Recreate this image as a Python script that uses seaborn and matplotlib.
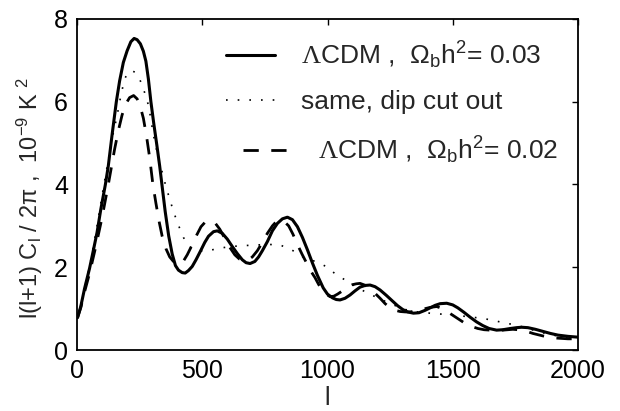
import numpy as np
import pandas as pd
import matplotlib
matplotlib.use("Agg")
import matplotlib.pyplot as plt
import seaborn as sns

# ---- data ----
# solid: LCDM, Omega_b h^2 = 0.03
l_a = [2, 15, 30, 50, 65, 80, 95, 113, 125, 140, 157, 170, 185, 200, 215, 228, 240, 253,
       265, 275, 285, 295, 307, 319, 330, 339, 352, 366, 380, 393, 405, 420, 432, 445, 460,
       475, 492, 510, 525, 545, 560, 580, 600, 620, 640, 660, 675, 691, 710, 725, 740, 760,
       780, 800, 820, 840, 860, 880, 900, 920, 940, 960, 983, 1000, 1020, 1035, 1050, 1070,
       1090, 1110, 1130, 1150, 1170, 1190, 1210, 1235, 1260, 1280, 1300, 1320, 1343, 1365,
       1390, 1410, 1430, 1450, 1476, 1500, 1520, 1545, 1570, 1595, 1620, 1645, 1675, 1700,
       1730, 1755, 1775, 1800, 1830, 1860, 1890, 1920, 1960, 2000]
cl_a = [0.78, 1.05, 1.48, 1.97, 2.40, 2.84, 3.40, 3.99, 4.45, 5.20, 6.00, 6.50, 6.95, 7.23,
        7.45, 7.53, 7.50, 7.40, 7.22, 6.98, 6.55, 6.00, 5.45, 4.94, 4.45, 4.00, 3.35, 2.76,
        2.32, 2.04, 1.93, 1.87, 1.86, 1.92, 2.02, 2.18, 2.38, 2.60, 2.75, 2.86, 2.88, 2.82,
        2.68, 2.50, 2.33, 2.18, 2.11, 2.09, 2.14, 2.25, 2.40, 2.62, 2.88, 3.06, 3.17, 3.21,
        3.15, 2.98, 2.72, 2.42, 2.10, 1.80, 1.50, 1.35, 1.26, 1.22, 1.21, 1.25, 1.33, 1.43,
        1.52, 1.56, 1.57, 1.53, 1.45, 1.32, 1.18, 1.07, 0.98, 0.92, 0.89, 0.90, 0.96, 1.02,
        1.08, 1.12, 1.13, 1.09, 1.02, 0.91, 0.79, 0.68, 0.59, 0.52, 0.48, 0.49, 0.52, 0.54,
        0.55, 0.54, 0.50, 0.45, 0.40, 0.36, 0.33, 0.31]

# dotted: same, dip cut out
l_b = [2, 15, 30, 50, 65, 80, 100, 125, 145, 160, 175, 190, 205, 220, 235, 250, 266, 286,
       305, 326, 340, 355, 370, 386, 406, 425, 445, 470, 511, 560, 611, 660, 717, 770, 810,
       857, 910, 957, 997, 1037, 1083, 1120, 1150, 1190, 1250, 1316, 1360, 1409, 1450, 1500,
       1556, 1609, 1652, 1702, 1755, 1800, 1850, 1900, 1950, 2000]
cl_b = [0.78, 1.05, 1.50, 2.00, 2.50, 3.00, 3.73, 4.60, 5.25, 5.66, 6.15, 6.55, 6.72, 6.75,
        6.70, 6.55, 6.30, 5.90, 5.20, 4.60, 4.30, 3.95, 3.65, 3.33, 3.00, 2.72, 2.52, 2.42,
        2.38, 2.45, 2.50, 2.52, 2.54, 2.55, 2.54, 2.42, 2.22, 2.13, 2.01, 1.81, 1.65, 1.50,
        1.41, 1.29, 1.12, 0.97, 0.92, 0.89, 0.87, 0.84, 0.81, 0.77, 0.73, 0.66, 0.60, 0.52,
        0.43, 0.36, 0.31, 0.28]

# dashed: LCDM, Omega_b h^2 = 0.02
l_c = [2, 15, 30, 50, 75, 100, 125, 150, 165, 180, 195, 210, 226, 240, 252, 265, 278, 290,
       303, 315, 328, 340, 355, 370, 385, 398, 412, 425, 440, 458, 478, 495, 510, 531, 550,
       570, 590, 610, 630, 648, 665, 685, 700, 720, 740, 760, 780, 795, 810, 828, 845, 862,
       880, 898, 915, 932, 950, 965, 980, 995, 1010, 1025, 1040, 1055, 1070, 1085, 1100,
       1115, 1130, 1148, 1165, 1188, 1210, 1230, 1250, 1270, 1290, 1310, 1329, 1350, 1370,
       1390, 1410, 1436, 1455, 1470, 1490, 1510, 1530, 1550, 1575, 1600, 1625, 1649, 1675,
       1700, 1720, 1740, 1760, 1780, 1800, 1820, 1840, 1860, 1885, 1910, 1935, 1960, 2000]
cl_c = [0.78, 1.02, 1.40, 1.85, 2.50, 3.20, 4.00, 4.85, 5.30, 5.68, 5.95, 6.10, 6.15, 6.07,
        5.90, 5.60, 5.15, 4.65, 4.00, 3.55, 3.10, 2.75, 2.45, 2.25, 2.14, 2.09, 2.08, 2.15,
        2.30, 2.52, 2.78, 2.98, 3.08, 3.13, 3.08, 2.92, 2.70, 2.48, 2.30, 2.20, 2.16, 2.18,
        2.25, 2.40, 2.60, 2.82, 3.00, 3.10, 3.14, 3.10, 3.00, 2.80, 2.55, 2.32, 2.12, 1.92,
        1.75, 1.58, 1.45, 1.35, 1.29, 1.30, 1.35, 1.41, 1.48, 1.54, 1.58, 1.60, 1.61, 1.57,
        1.50, 1.38, 1.25, 1.12, 1.02, 0.96, 0.93, 0.92, 0.92, 0.94, 0.97, 1.00, 1.03, 1.05,
        1.01, 0.96, 0.88, 0.80, 0.72, 0.64, 0.57, 0.52, 0.49, 0.48, 0.48, 0.48, 0.49, 0.50,
        0.49, 0.47, 0.44, 0.40, 0.37, 0.34, 0.31, 0.29, 0.28, 0.27, 0.27]

labels = [r"$\mathsf{\Lambda}$CDM ,  $\Omega_bh^2$= 0.03",
          "same, dip cut out",
          r"$\mathsf{\Lambda}$CDM ,  $\Omega_bh^2$= 0.02"]
x_ticks = [0, 500, 1000, 1500, 2000]
y_ticks = [0, 2, 4, 6, 8]

# ---- style ----
sns.set_theme(style="white")
plt.rcParams["font.family"] = ["Liberation Sans", "DejaVu Sans"]
plt.rcParams["mathtext.fontset"] = "custom"
plt.rcParams["mathtext.rm"] = "Liberation Sans"
plt.rcParams["mathtext.it"] = "Liberation Sans:italic"
plt.rcParams["mathtext.sf"] = "Liberation Serif"
plt.rcParams["mathtext.default"] = "regular"

FS = 18
LFS = 19
fig = plt.figure(figsize=(6.2, 4.11), dpi=100)
ax = fig.add_axes([77 / 620, 61 / 411, 501 / 620, 331 / 411])

df_a = pd.DataFrame({"l": l_a, "cl": cl_a})
df_b = pd.DataFrame({"l": l_b, "cl": cl_b})
df_c = pd.DataFrame({"l": l_c, "cl": cl_c})

sns.lineplot(data=df_a, x="l", y="cl", ax=ax, color="black", lw=2.2,
             linestyle="-", label=labels[0], legend=False)
sns.lineplot(data=df_b, x="l", y="cl", ax=ax, color="black", lw=1.2,
             linestyle=(0, (1, 6)), label=labels[1], legend=False)
sns.lineplot(data=df_c, x="l", y="cl", ax=ax, color="black", lw=2.0,
             linestyle=(0, (5.5, 4.5)), label=labels[2], legend=False)

ax.set_xlim(0, 2000)
ax.set_ylim(0, 8)
ax.set_xticks(x_ticks)
ax.set_yticks(y_ticks)
ax.tick_params(direction="in", length=4, width=1, top=True, right=True,
               labelsize=FS, pad=6.5, colors="black")
for s in ax.spines.values():
    s.set_visible(True)
    s.set_color("black")
    s.set_linewidth(1.3)

ax.set_xlabel("l", fontsize=FS, labelpad=2)
ax.set_ylabel(r"l(l+1) C$_l$ / 2π ,  10$^{-9}$ K $^2$", fontsize=17)
ax.yaxis.set_label_coords(-0.064, 0.46)

lines = ax.get_lines()
leg1 = fig.legend(handles=[lines[0], lines[1]], labels=labels[:2],
                  loc="center left", bbox_to_anchor=(226 / 620, 1 - 77 / 411),
                  frameon=False, fontsize=LFS, borderpad=0, borderaxespad=0,
                  handlelength=1.86, handletextpad=0.98, labelspacing=0.72)
leg2 = fig.legend(handles=[lines[2]], labels=[labels[2]],
                  loc="center left", bbox_to_anchor=(243 / 620, 1 - 150 / 411),
                  frameon=False, fontsize=LFS, borderpad=0, borderaxespad=0,
                  handlelength=1.86, handletextpad=0.98)

fig.savefig("out.png", dpi=100)
